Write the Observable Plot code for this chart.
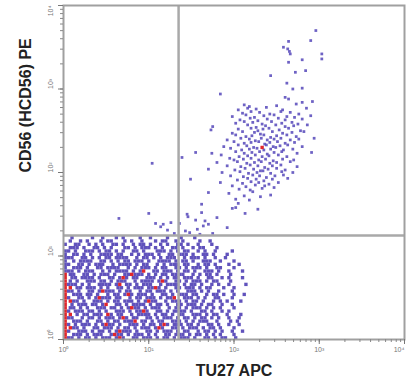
<!DOCTYPE html>
<html><head><meta charset="utf-8">
<script src="https://cdn.jsdelivr.net/npm/d3@7"></script>
<script src="https://cdn.jsdelivr.net/npm/@observablehq/plot@0.6"></script>
<style>body{margin:0;background:#fff} svg{display:block}</style>
</head><body><div id="chart"></div>
<script>
// Axis titles and decade ticks (log10 units)
const xTitle = "TU27 APC";
const yTitle = "CD56 (HCD56) PE";
const decades = [0, 1, 2, 3, 4];
const supers = ["⁰", "¹", "²", "³", "⁴"];
// Quadrant gates (log10 units)
const gateX = 1.35;
const gateY = 1.245;

// Dense lower-left population read as an occupancy grid (log10 units, cell 0.04,
// odd rows shifted half a cell), top row first; '#' = blue event, 'r' = red event
const gridCell = 0.04;
const lowerGrid = [
  "..#.....#..#...#.#....#..#....#...#...#",
  ".#..#.#...#.##...#.#..#...#.##..#.#....#..#",
  "#..##..#.#.#..##.#..#.##.#..#.#..##.#..#...#",
  ".###.#..##.#.#...##.#.###.#.#..##.#..#.##...#",
  "##.#..###.#.##.#.#..##.#...###.#.#.##..#.#..#....#",
  "#.##.#.#..####.##..#.#.###.#..##.###.#..##.#...#",
  "###..##.#.#.##.####..#.##.#.#.###..#.###.#..#..#",
  "#.#.####..##.#.#.##.###.#..####.#.##.#..###..#...#",
  "##..##.#.###..#.####.#.##..#.#.###.##..#.##.#...#..#",
  "#.###.#..##.####..#.#.###.#.##..##.#.###.#..##...#",
  "###.#.###..#.#.####.#.#r..##.###.#.##.#..###.#..#...#",
  "r##..##.#.###.#..##r###.#.#.##.####..#.#.##.#...#",
  "r.##.####.#..##.#r#.##..###.#.#.##.###.#..##..#.#...#",
  "r#.#..###.##.#.###..#.####.#r#..##.#.###.#.##...#",
  "r###.#.#..####.#r.##.#.###..#.####.#.##.#..#.#..#....#",
  "rr.##.###.#.#..##.#.###.##r#.#..##.###.#.##...#..#",
  "r##.#..##.#r###.#.##..#.##.###.#.#..###.#.#..#...#",
  "r.###.##.#..#.##.#r#.###.#..##.#.###.##..#.##.#..#..#",
  "r#..##.#.#r###.##..#.##.###.#.##r..###.#.#..##...#",
  "rr##.#..###.#.##.###.#.#r##..#.###.#.##.#..#.#.#...#",
  "r.#.###.##.#r..##.#.####.#.##.#..##.###.#.##..#..#",
  "r##.#.#..###.##.#.#r##.#.###..#.##.#.###.#.#.#...#",
  "r#.###.##.#.#..###.#.##r#..##.#.####.#..##.#..#.#",
  "rr.#.##.###.r#.##..#.####.#.##.#.##..###.#.##..#...#",
  "r##..#.##.#.###.#r#.##..##.#.###.#.##.#.##.#.#..#..#",
  "r.###.#..##.#.##.###r.##.#.##..###.#.#.###..#...#.#",
  "r#.#.###.#.#r##.#..###.#.##.#r#.###.##.#..##.#..#..#",
  "rr##.#..##.###.#.##.#.###.#r#..##.#.###.#.##.#...#",
  "r#..###.#.##.#.#r###.#..##.#.###.#.##..#.##.#.#..#..#",
  "r.###.#.###..#r##.#.###.#.#..##.###.#.##.#.#.#...#",
  "r##.#.##.#.###.#r#..##.###.#.##.#.###.#..##.#.##..#"
];

// Sparser events: [TU27 log10, CD56 log10]
const upperEvents = [
  [2.96,3.70],[2.64,3.57],[2.90,3.58],[2.58,3.50],[2.63,3.48],[2.65,3.45],[2.66,3.42],[3.03,3.42],
  [3.03,3.36],[2.80,3.35],[2.64,3.32],[2.84,3.22],[2.72,3.20],[2.43,3.16],[2.62,3.07],[2.69,3.00],
  [2.80,3.01],[1.84,2.94],[2.60,2.90],[2.64,2.88],[2.80,2.84],[2.92,2.85],
  [2.12,2.81],[2.18,2.79],[2.50,2.80],[2.73,2.82],
  [2.05,2.75],[2.16,2.77],[2.26,2.76],[2.38,2.78],[2.57,2.75],[2.85,2.77],
  [2.10,2.71],[2.20,2.73],[2.30,2.72],[2.42,2.70],[2.55,2.73],[2.66,2.72],[2.76,2.70],
  [1.98,2.67],[2.14,2.69],[2.24,2.66],[2.35,2.68],[2.47,2.69],[2.62,2.67],[2.71,2.66],[2.90,2.68],
  [2.07,2.63],[2.19,2.65],[2.28,2.62],[2.39,2.64],[2.52,2.65],[2.60,2.63],[2.80,2.64],
  [2.02,2.59],[2.12,2.61],[2.22,2.60],[2.33,2.58],[2.44,2.61],[2.56,2.59],[2.68,2.60],[2.75,2.58],
  [1.75,2.55],[2.16,2.57],[2.26,2.54],[2.37,2.56],[2.49,2.57],[2.60,2.55],[2.70,2.56],[2.86,2.57],
  [1.73,2.51],[2.05,2.52],[2.20,2.53],[2.28,2.50],[2.34,2.52],[2.41,2.53],[2.53,2.51],[2.64,2.53],[2.78,2.50],
  [1.98,2.47],[2.10,2.49],[2.24,2.48],[2.31,2.46],[2.45,2.49],[2.57,2.47],[2.68,2.48],[2.82,2.49],
  [2.02,2.45],[2.14,2.43],[2.21,2.44],[2.35,2.45],[2.43,2.42],[2.50,2.44],[2.62,2.45],[2.73,2.43],
  [1.92,2.39],[2.08,2.41],[2.18,2.40],[2.25,2.38],[2.32,2.41],[2.39,2.39],[2.47,2.40],[2.55,2.41],[2.66,2.39],[2.76,2.40],[2.94,2.41],
  [2.00,2.37],[2.12,2.35],[2.20,2.36],[2.29,2.37],[2.36,2.34],[2.42,2.36],[2.51,2.37],[2.60,2.35],[2.71,2.36],
  [1.88,2.31],[2.05,2.33],[2.15,2.32],[2.23,2.30],[2.38,2.33],[2.46,2.31],[2.54,2.32],[2.63,2.33],[2.80,2.31],
  [1.96,2.29],[2.09,2.27],[2.18,2.28],[2.27,2.29],[2.35,2.27],[2.43,2.28],[2.49,2.30],[2.58,2.27],[2.69,2.28],
  [1.55,2.24],[1.74,2.23],[2.02,2.25],[2.12,2.23],[2.21,2.24],[2.30,2.25],[2.39,2.22],[2.47,2.24],[2.56,2.25],[2.74,2.23],[2.91,2.24],
  [1.85,2.21],[2.06,2.19],[2.16,2.20],[2.25,2.21],[2.33,2.19],[2.41,2.20],[2.52,2.21],[2.62,2.19],
  [1.39,2.18],[1.95,2.17],
  [2.00,2.15],[2.11,2.16],[2.20,2.17],[2.29,2.15],[2.37,2.16],[2.46,2.14],[2.57,2.16],[2.70,2.15],
  [1.80,2.12],[2.04,2.13],[2.15,2.11],[2.24,2.12],[2.32,2.13],[2.42,2.11],[2.50,2.12],[2.66,2.13],
  [1.04,2.11],
  [1.92,2.08],[2.08,2.07],[2.19,2.09],[2.28,2.08],[2.36,2.06],[2.45,2.08],[2.55,2.09],[2.74,2.07],
  [1.70,2.04],[2.01,2.03],[2.13,2.05],[2.23,2.04],[2.31,2.02],[2.40,2.04],[2.50,2.05],[2.60,2.03],
  [1.86,2.00],[2.07,2.01],[2.17,1.99],[2.27,2.00],[2.34,2.02],[2.43,1.99],[2.56,2.01],[2.69,2.00],
  [1.96,1.96],[2.11,1.95],[2.22,1.97],[2.30,1.96],[2.38,1.94],[2.48,1.96],[2.58,1.97],
  [1.49,1.92],[2.04,1.91],[2.16,1.93],[2.26,1.92],[2.35,1.90],[2.45,1.92],[2.63,1.93],
  [1.84,1.88],[2.10,1.87],[2.20,1.89],[2.29,1.88],[2.41,1.86],[2.52,1.88],
  [1.98,1.84],[2.14,1.83],[2.25,1.85],[2.36,1.84],[2.47,1.82],
  [2.06,1.80],[2.19,1.79],[2.33,1.81],
  [1.70,1.76],[1.94,1.75],[2.22,1.77],
  [2.12,1.72],[2.31,1.71],[2.43,1.73],
  [2.02,1.68],[2.18,1.67],
  [1.62,1.62],[2.05,1.63],
  [1.98,1.57],[2.02,1.58],[2.28,1.56],
  [1.00,1.51],[1.45,1.50],[1.62,1.52],[2.13,1.51],
  [1.46,1.47],[1.80,1.46],
  [0.65,1.45],
  [1.55,1.43],[1.66,1.42],
  [1.08,1.39],[1.17,1.38],[1.26,1.40],[1.36,1.39],[1.70,1.38],
  [1.14,1.35],[1.64,1.36],[1.92,1.34],
  [1.22,1.31],[1.43,1.30],[1.57,1.32],
  [1.30,1.27],[1.48,1.28],[1.60,1.26],[1.75,1.27]
];
const upperRed = [[2.33, 2.30]];

// ---- build events ----
const lower = [];
lowerGrid.forEach((row, i) => {
  const r = lowerGrid.length - 1 - i;
  const shift = (r % 2) * gridCell / 2;
  for (let c = 0; c < row.length; c++) {
    const ch = row[c];
    if (ch === ".") continue;
    const xc = c === 0 ? gridCell / 2 : gridCell / 2 + c * gridCell + shift;
    lower.push({x: 10 ** xc, y: 10 ** (gridCell / 2 + r * gridCell), red: ch === "r"});
  }
});
const upper = upperEvents.map(([x, y]) => ({x: 10 ** x, y: 10 ** y}));
const reds = lower.filter(d => d.red).concat(upperRed.map(([x, y]) => ({x: 10 ** x, y: 10 ** y})));

const minor = [];
for (let k = 0; k < 4; k++) for (let m = 1; m < 10; m++) minor.push(m * 10 ** k);
minor.push(1e4);
const major = decades.map(d => 10 ** d);
const label = d => "10" + supers[d];

const font = "'Liberation Sans', Arial, sans-serif";
const chart = Plot.plot({
  width: 406, height: 387,
  marginLeft: 63, marginRight: 2, marginTop: 5, marginBottom: 48,
  x: {type: "log", domain: [1, 1e4], axis: null},
  y: {type: "log", domain: [1, 1e4], axis: null},
  style: {fontFamily: font, background: "#fff"},
  marks: [
    Plot.dot(lower.filter(d => !d.red), {x: "x", y: "y", symbol: "square", r: 1.9, fill: "#5243b6", fillOpacity: 0.92}),
    Plot.dot(upper, {x: "x", y: "y", symbol: "square", r: 1.55, fill: "#5a4cbc", fillOpacity: 0.88}),
    Plot.dot(reds, {x: "x", y: "y", symbol: "square", r: 1.9, fill: "#e0262c"}),
    Plot.ruleX([10 ** gateX], {stroke: "#a9a9a9", strokeWidth: 2.5}),
    Plot.ruleY([10 ** gateY], {stroke: "#a9a9a9", strokeWidth: 2.5}),
    Plot.frame({stroke: "#a0a0a0", strokeWidth: 2}),
    Plot.axisX(minor, {anchor: "bottom", tickSize: 3, tickFormat: () => "", label: null, stroke: "#888"}),
    Plot.axisY(minor, {anchor: "left", tickSize: 3, tickFormat: () => "", label: null, stroke: "#888"}),
    Plot.axisX(major, {anchor: "bottom", tickSize: 5, tickFormat: () => "", label: null, stroke: "#777"}),
    Plot.axisY(major, {anchor: "left", tickSize: 5, tickFormat: () => "", label: null, stroke: "#777"}),
    Plot.text(decades.slice(0, 4), {x: d => 10 ** d, frameAnchor: "bottom", dy: 12, text: label, fontSize: 7, fill: "#777"}),
    Plot.text([4], {x: d => 10 ** d, frameAnchor: "bottom", dy: 12, text: label, fontSize: 7, fill: "#777", textAnchor: "end"}),
    Plot.text(decades.slice(0, 4), {y: d => 10 ** d, frameAnchor: "left", dx: -13, rotate: -90, text: label, fontSize: 7, fill: "#777"}),
    Plot.text([4], {y: d => 10 ** d, frameAnchor: "left", dx: -13, rotate: -90, text: label, fontSize: 7, fill: "#777", textAnchor: "end"}),
    Plot.text([xTitle], {frameAnchor: "bottom", dy: 36, text: d => d, fontSize: 16, fontWeight: "bold", fill: "#222"}),
    Plot.text([yTitle], {frameAnchor: "left", dx: -38, rotate: -90, text: d => d, fontSize: 16, fontWeight: "bold", fill: "#222"})
  ]
});
document.getElementById("chart").append(chart);
</script>
</body></html>
